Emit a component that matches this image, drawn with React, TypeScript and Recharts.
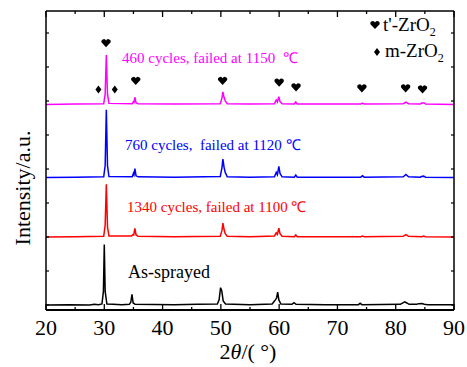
import React from "react";
import { ComposedChart, Line, Scatter, XAxis, YAxis, Legend } from "recharts";

const W = 467;
const H = 367;
const FONT = "'Liberation Serif', 'Times New Roman', serif";

// ---------- data ----------
const xTicks = [20, 25, 30, 35, 40, 45, 50, 55, 60, 65, 70, 75, 80, 85, 90];
const yTicks = [0, 1, 2, 3, 4, 5, 6, 7, 8];
const yDomain: [number, number] = [-0.147, 8.647];

// [2theta, intensity] pairs (raw, before stacking offset)
const asSprayed: [number, number][] = [
  [20, 0.0], [24, 0.01], [27.5, 0.0], [28.3, 0.02], [29.0, 0.01], [29.6, 0.03], [29.85, 0.4], [30.0, 1.78],
  [30.15, 0.4], [30.45, 0.03], [31.5, 0.02], [33, 0.01], [34.3, 0.02], [34.55, 0.08], [34.75, 0.31],
  [34.95, 0.06], [35.3, 0.02], [42, 0.01], [46, 0.02], [49.4, 0.03], [49.7, 0.15], [49.95, 0.51],
  [50.15, 0.42], [50.4, 0.12], [50.8, 0.03], [55, 0.01], [58.8, 0.03], [59.2, 0.12], [59.35, 0.15],
  [59.55, 0.2], [59.75, 0.38], [59.95, 0.15], [60.3, 0.03], [62.2, 0.02], [62.55, 0.07], [62.9, 0.02],
  [68, 0.01], [73.6, 0.01], [73.9, 0.05], [74.2, 0.01], [80.8, 0.02], [81.3, 0.07], [81.55, 0.09],
  [81.9, 0.06], [82.3, 0.02], [83.6, 0.02], [84.0, 0.04], [84.5, 0.045], [84.9, 0.02], [85.5, 0.01], [90, 0.01],
];

const cycles1340: [number, number][] = [
  [20, 0.0], [25, 0.01], [29.9, 0.02], [30.15, 0.35], [30.35, 1.55], [30.55, 0.3], [30.8, 0.03],
  [34.7, 0.03], [34.9, 0.07], [35.05, 0.06], [35.25, 0.25], [35.45, 0.06], [35.8, 0.02], [42, 0.01],
  [49.9, 0.02], [50.2, 0.2], [50.35, 0.41], [50.55, 0.22], [50.75, 0.1], [51.1, 0.02], [55, 0.01],
  [59.2, 0.03], [59.5, 0.12], [59.7, 0.08], [59.95, 0.26], [60.15, 0.1], [60.5, 0.02], [62.6, 0.01],
  [62.85, 0.06], [63.1, 0.01], [74.0, 0.01], [74.3, 0.03], [74.6, 0.01], [81.3, 0.02], [81.75, 0.07],
  [82.2, 0.02], [84.5, 0.01], [84.8, 0.03], [85.1, 0.01], [90, 0.0],
];

const cycles760: [number, number][] = [
  [20, 0.0], [25, 0.01], [29.9, 0.02], [30.15, 0.35], [30.35, 1.99], [30.55, 0.35], [30.8, 0.03],
  [34.8, 0.02], [35.0, 0.12], [35.1, 0.08], [35.25, 0.26], [35.45, 0.05], [35.8, 0.02], [42, 0.01],
  [49.9, 0.03], [50.2, 0.3], [50.35, 0.54], [50.55, 0.3], [50.75, 0.15], [51.1, 0.02], [55, 0.01],
  [59.2, 0.02], [59.5, 0.15], [59.7, 0.08], [59.95, 0.33], [60.15, 0.12], [60.5, 0.02], [62.6, 0.01],
  [62.85, 0.07], [63.1, 0.01], [74.0, 0.01], [74.3, 0.05], [74.6, 0.01], [81.3, 0.02], [81.75, 0.09],
  [82.2, 0.02], [84.2, 0.01], [84.4, 0.03], [84.8, 0.04], [85.1, 0.01], [90, 0.0],
];

const cycles460: [number, number][] = [
  [20, 0.0], [25, 0.01], [29.9, 0.02], [30.15, 0.3], [30.35, 1.45], [30.55, 0.3], [30.8, 0.03],
  [34.8, 0.02], [35.0, 0.08], [35.1, 0.06], [35.25, 0.21], [35.45, 0.04], [35.8, 0.02], [42, 0.01],
  [49.9, 0.02], [50.2, 0.2], [50.35, 0.37], [50.55, 0.2], [50.75, 0.1], [51.1, 0.02], [55, 0.01],
  [59.2, 0.02], [59.5, 0.13], [59.7, 0.07], [59.95, 0.23], [60.15, 0.08], [60.5, 0.02], [62.6, 0.01],
  [62.85, 0.07], [63.1, 0.01], [74.0, 0.01], [74.3, 0.04], [74.6, 0.01], [81.3, 0.02], [81.75, 0.07],
  [82.2, 0.02], [84.2, 0.01], [84.45, 0.04], [84.9, 0.04], [85.1, 0.01], [90, 0.0],
];

const seriesData = [asSprayed, cycles1340, cycles760, cycles460];
const seriesNames = [
  "As-sprayed",
  "1340 cycles, failed at 1100 \u2103",
  "760 cycles,  failed at 1120 \u2103",
  "460 cycles, failed at 1150  \u2103",
];
const seriesOffsets = [0, 2.0, 3.75, 5.9];

// phase markers (2theta, height) above the top pattern
const tPeaks = [30.3, 35.4, 50.3, 60.0, 62.9, 74.2, 81.7, 84.6];
const tMarkY = [7.7, 6.59, 6.59, 6.54, 6.4, 6.37, 6.37, 6.34];
const mPeaks = [29.0, 31.8];
const mMarkY = [6.34, 6.34];

const legendNames = ["t'-ZrO", "m-ZrO"];

// ---------- styling / layout ----------
const seriesColors = ["#000000", "#FF0000", "#0000FF", "#FF00FF"];
const labelLayout = [
  { x: 34.07, dy: 0.79, size: 18 },
  { x: 33.9, dy: 0.74, size: 15 },
  { x: 33.55, dy: 0.81, size: 15 },
  { x: 33.04, dy: 1.22, size: 15 },
];

const heartPath = (cx: number, cy: number) =>
  `M${cx},${cy + 4} L${cx - 4.4},${cy - 0.6} A2.3,2.3 0 0 1 ${cx},${cy - 2.6} A2.3,2.3 0 0 1 ${cx + 4.4},${cy - 0.6} Z`;
const diamondPath = (cx: number, cy: number) =>
  `M${cx},${cy - 4} L${cx + 3},${cy} L${cx},${cy + 4} L${cx - 3},${cy} Z`;

const HeartShape = (p: any) => <path d={heartPath(p.cx, p.cy)} fill="#000" />;
const DiamondShape = (p: any) => <path d={diamondPath(p.cx, p.cy)} fill="#000" />;
const LabelShape = (p: any) => (
  <text
    x={p.cx}
    y={p.cy}
    fill={p.payload.color}
    fontSize={p.payload.size}
    fontFamily={FONT}
    style={{ whiteSpace: "pre" }}
  >
    {p.payload.text}
  </text>
);

const BottomTick = (p: any) => {
  const v = p.payload.value;
  const major = v % 10 === 0;
  return (
    <g>
      <line x1={p.x} x2={p.x} y1={p.y} y2={p.y - (major ? 6 : 3)} stroke="#000" strokeWidth={1.3} />
      {major && (
        <text x={p.x} y={p.y + 25} textAnchor="middle" fontSize={22} fontFamily={FONT} fill="#000">
          {v}
        </text>
      )}
    </g>
  );
};
const TopTick = (p: any) => {
  const major = p.payload.value % 10 === 0;
  return <line x1={p.x} x2={p.x} y1={p.y} y2={p.y + (major ? 6 : 3)} stroke="#000" strokeWidth={1.3} />;
};
const LeftTick = (p: any) => <line x1={p.x} x2={p.x + 3} y1={p.y} y2={p.y} stroke="#000" strokeWidth={1.2} />;
const RightTick = (p: any) => <line x1={p.x} x2={p.x - 3} y1={p.y} y2={p.y} stroke="#000" strokeWidth={1.2} />;

const XLabel = () => (
  <text x={248} y={359} textAnchor="middle" fontSize={22} fontFamily={FONT} fill="#000" style={{ whiteSpace: "pre" }}>
    <tspan>2</tspan>
    <tspan fontStyle="italic">{"\u03B8"}</tspan>
    <tspan>{"/( \u00B0)"}</tspan>
  </text>
);
const YLabel = () => {
  const cx = 30;
  const cy = 188;
  return (
    <text x={cx} y={cy} transform={`rotate(-90 ${cx} ${cy})`} textAnchor="middle" fontSize={22} fontFamily={FONT} fill="#000">
      Intensity/a.u.
    </text>
  );
};

const LegendContent = () => (
  <svg width={100} height={66} style={{ display: "block" }}>
    <path d={heartPath(10, 19)} fill="#000" />
    <text x={18} y={25} fontSize={19} fontFamily={FONT} fill="#000">
      {legendNames[0]}
      <tspan fontSize={12} dy={5}>2</tspan>
    </text>
    <path d={diamondPath(12, 46)} fill="#000" />
    <text x={20} y={51} fontSize={19} fontFamily={FONT} fill="#000">
      {legendNames[1]}
      <tspan fontSize={12} dy={5}>2</tspan>
    </text>
  </svg>
);

export default function App() {
  const lines = seriesData.map((pts, i) => pts.map(([x, y]) => ({ x, y: y + seriesOffsets[i] })));
  const tMarks = tPeaks.map((x, i) => ({ x, y: tMarkY[i] }));
  const mMarks = mPeaks.map((x, i) => ({ x, y: mMarkY[i] }));
  const labels = seriesNames.map((text, i) => ({
    x: labelLayout[i].x,
    y: seriesOffsets[i] + labelLayout[i].dy,
    text,
    color: seriesColors[i],
    size: labelLayout[i].size,
  }));

  return (
    <div style={{ position: "absolute", left: 0, top: 0, width: W, height: H, background: "#fff" }}>
      <ComposedChart width={W} height={H} margin={{ top: 10, right: 12, bottom: 56, left: 45 }}>
        <XAxis
          xAxisId="b"
          dataKey="x"
          type="number"
          domain={[20, 90]}
          ticks={xTicks}
          interval={0}
          allowDataOverflow
          height={1}
          tickSize={0}
          tickMargin={0}
          tickLine={false}
          tick={<BottomTick />}
          axisLine={{ stroke: "#000", strokeWidth: 2 }}
          label={{ content: <XLabel /> }}
        />
        <XAxis
          xAxisId="t"
          orientation="top"
          dataKey="x"
          type="number"
          domain={[20, 90]}
          ticks={xTicks}
          interval={0}
          allowDataOverflow
          height={1}
          tickSize={0}
          tickMargin={0}
          tickLine={false}
          tick={<TopTick />}
          axisLine={{ stroke: "#000", strokeWidth: 1.5 }}
        />
        <YAxis
          yAxisId="l"
          type="number"
          domain={yDomain}
          ticks={yTicks}
          interval={0}
          allowDataOverflow
          width={1}
          tickSize={0}
          tickMargin={0}
          tickLine={false}
          tick={<LeftTick />}
          axisLine={{ stroke: "#000", strokeWidth: 1.5 }}
          label={{ content: <YLabel /> }}
        />
        <YAxis
          yAxisId="r"
          orientation="right"
          type="number"
          domain={yDomain}
          ticks={yTicks}
          interval={0}
          allowDataOverflow
          width={1}
          tickSize={0}
          tickMargin={0}
          tickLine={false}
          tick={<RightTick />}
          axisLine={{ stroke: "#000", strokeWidth: 1.5 }}
        />
        {lines.map((d, i) => (
          <Line
            key={i}
            xAxisId="b"
            yAxisId="l"
            data={d}
            dataKey="y"
            type="linear"
            dot={false}
            stroke={seriesColors[i]}
            strokeWidth={1.5}
            isAnimationActive={false}
          />
        ))}
        <Scatter xAxisId="b" yAxisId="l" data={tMarks} dataKey="y" shape={<HeartShape />} isAnimationActive={false} />
        <Scatter xAxisId="b" yAxisId="l" data={mMarks} dataKey="y" shape={<DiamondShape />} isAnimationActive={false} />
        <Scatter xAxisId="b" yAxisId="l" data={labels} dataKey="y" shape={<LabelShape />} isAnimationActive={false} />
        <Legend
          layout="vertical"
          align="center"
          verticalAlign="middle"
          wrapperStyle={{ left: 365, top: 6, width: 100, height: 66 }}
          content={<LegendContent />}
        />
      </ComposedChart>
    </div>
  );
}
